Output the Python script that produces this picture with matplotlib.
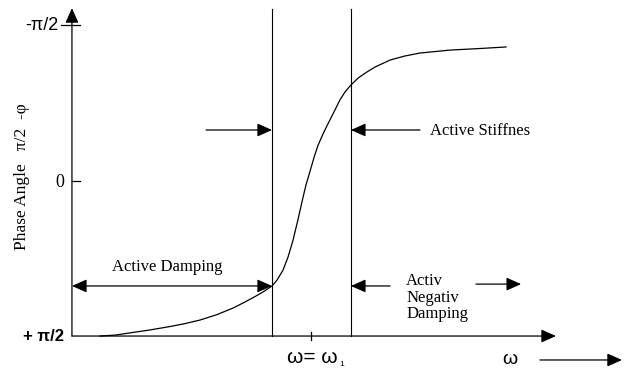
import matplotlib
matplotlib.use('Agg')
import matplotlib.pyplot as plt

# frequency in units of omega_1; phase in units of pi/2
# (the axis runs from +pi/2 at the bottom to -pi/2 at the top)
omega = [0.117, 0.180, 0.255, 0.326, 0.410, 0.473, 0.536, 0.607, 0.674, 0.724,
         0.766, 0.799, 0.837, 0.858, 0.883, 0.904, 0.925, 0.946, 0.967, 0.979,
         0.996, 1.013, 1.029, 1.054, 1.079, 1.100, 1.121, 1.142, 1.167, 1.197,
         1.234, 1.268, 1.331, 1.393, 1.456, 1.582, 1.707, 1.816]
phase = [1.000, 0.994, 0.977, 0.961, 0.939, 0.920, 0.897, 0.862, 0.820, 0.781,
         0.746, 0.717, 0.678, 0.640, 0.576, 0.492, 0.383, 0.248, 0.106, 0.029,
         -0.060, -0.150, -0.225, -0.312, -0.389, -0.453, -0.518, -0.569, -0.614, -0.659,
         -0.698, -0.730, -0.775, -0.801, -0.820, -0.839, -0.849, -0.859]

omega_1 = 1.0
omega_damp = 0.837    # right edge of the active damping band
omega_stiff = 1.167   # left edge of the negative damping band
phase_damp = 0.678    # phase where the damping band ends

y_ticks = [-1, 0, 1]
y_tick_labels = ['-π/2', '0', '+ π/2']

SERIF = 'Liberation Serif'
SANS = 'Liberation Sans'

fig = plt.figure(figsize=(6.27, 3.69), dpi=100)
ax = fig.add_axes([0, 0, 1, 1])
ax.set_xlim(-0.301, 2.322)
ax.set_ylim(1.212, -1.161)
ax.axis('off')

lw = 0.9
head = '-|>,head_length=0.45,head_width=0.2'
dhead = '<|-|>,head_length=0.45,head_width=0.2'


def arrow(x0, y0, x1, y1, style=head):
    ax.annotate('', xy=(x1, y1), xytext=(x0, y0),
                arrowprops=dict(arrowstyle=style, color='black', lw=lw,
                                shrinkA=0, shrinkB=0, mutation_scale=20))


# axes with arrow heads
arrow(0, 1.0, 2.025, 1.0)
arrow(0, 1.0, 0, -1.109)

# y ticks
ax.plot([-0.046, 0.033], [y_ticks[0]] * 2, color='black', lw=lw)
ax.plot([0, 0.033], [y_ticks[1]] * 2, color='black', lw=lw)
ax.text(-0.055, y_ticks[0], y_tick_labels[0], family=SANS, fontsize=13,
        ha='right', va='center')
ax.text(-0.050, y_ticks[1] + 0.012, y_tick_labels[1], family=SERIF, fontsize=13,
        ha='center', va='center')
ax.text(-0.033, y_ticks[2], y_tick_labels[2], family=SANS, fontsize=12,
        ha='right', va='center', fontweight='bold')

# x tick at omega_1
ax.plot([omega_1, omega_1], [0.974, 1.026], color='black', lw=lw)

# band boundaries
ax.plot([omega_damp, omega_damp], [1.0, -1.1], color='black', lw=0.8)
ax.plot([omega_stiff, omega_stiff], [1.0, -1.1], color='black', lw=0.8)

# phase response
ax.plot(omega, phase, color='black', lw=0.9)

# annotations
arrow(0, phase_damp, omega_damp, phase_damp, style=dhead)
ax.text(0.397, 0.556, 'Active Damping', family=SERIF, fontsize=12, ha='center', va='center')

arrow(0.561, -0.325, omega_damp, -0.325)
arrow(1.456, -0.325, omega_stiff, -0.325)
ax.text(1.498, -0.318, 'Active Stiffnes', family=SERIF, fontsize=12, ha='left', va='center')

arrow(1.331, phase_damp, omega_stiff, phase_damp)
arrow(1.690, 0.666, 1.879, 0.666)
ax.text(1.398, 0.595, 'Activ\nNegativ\nDamping', family=SERIF, fontsize=12,
        ha='left', va='top', multialignment='left', linespacing=1.05)

ax.text(1.113, 1.135, 'ω= ω', family=SANS, fontsize=15, ha='right', va='center')
ax.text(1.130, 1.180, '1', family=SANS, fontsize=6, ha='center', va='center')
ax.text(1.833, 1.154, 'ω', family=SANS, fontsize=14, ha='center', va='center')
arrow(1.958, 1.154, 2.301, 1.154)

ax.text(-0.209, -0.023, 'Phase Angle   π/2  -φ', family=SERIF, fontsize=12.5,
        rotation=90, ha='center', va='center')

fig.savefig('out.png', dpi=100)
